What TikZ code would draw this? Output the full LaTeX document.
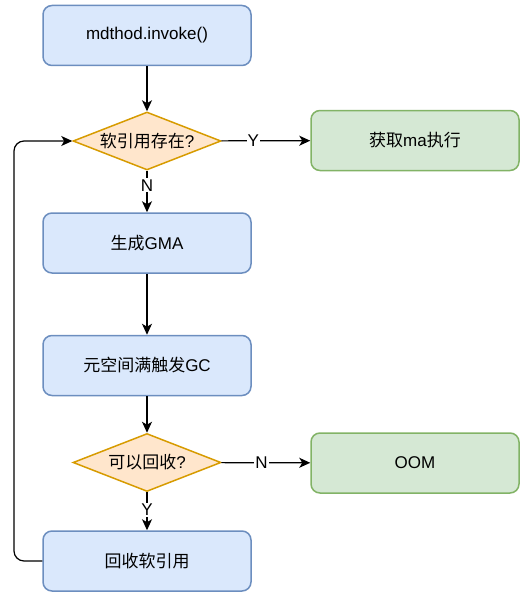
\documentclass[tikz,border=0pt]{standalone}
\usepackage{fontspec}
\setmainfont{Liberation Sans}
\newfontfamily\cjk{Noto Sans CJK SC}
\usetikzlibrary{arrows.meta,shapes.geometric}
\definecolor{bluefill}{HTML}{DAE8FC}
\definecolor{blueline}{HTML}{6C8EBF}
\definecolor{orangefill}{HTML}{FFE6CC}
\definecolor{orangeline}{HTML}{D79B00}
\definecolor{greenfill}{HTML}{D5E8D4}
\definecolor{greenline}{HTML}{82B366}
\begin{document}
\begin{tikzpicture}[x=1pt,y=-1pt,
    font=\fontsize{17}{20}\selectfont,
    stepbox/.style={draw=blueline, fill=bluefill, line width=1.5pt,
      rounded corners=9pt, minimum width=208pt, minimum height=60pt},
    endbox/.style={stepbox, draw=greenline, fill=greenfill},
    test/.style={diamond, draw=orangeline, fill=orangefill, line width=1.5pt,
      aspect=2.55, inner sep=0pt, minimum width=148pt, minimum height=58pt},
    flow/.style={-{Stealth[length=11pt,width=10pt,inset=3pt]}, line width=1.2pt},
    tag/.style={fill=white, inner sep=1pt}]
    \useasboundingbox (0,0) rectangle (528,594);

    % Boxes
    \node[stepbox] (invoke) at (147,35.5) {mdthod.invoke()};
    \node[test] (exists) at (147,141) {{\cjk 软引用存在}?};
    \node[endbox] (run) at (415,140.5) {{\cjk 获取}ma{\cjk 执行}};
    \node[stepbox] (gma) at (147,243) {{\cjk 生成}GMA};
    \node[stepbox] (gc) at (147,365.5) {{\cjk 元空间满触发}GC};
    \node[test] (canfree) at (147,462.5) {{\cjk 可以回收}?};
    \node[endbox] (oom) at (415,463) {OOM};
    \node[stepbox] (free) at (147,561) {{\cjk 回收软引用}};

    % Arcs
    \draw[flow] (invoke) -- (exists);
    \draw[flow] (exists) -- (run) node[tag, pos=0.36]{Y};
    \draw[flow] (exists) -- (gma) node[tag, pos=0.35]{N};
    \draw[flow] (gma) -- (gc);
    \draw[flow] (gc) -- (canfree);
    \draw[flow] (canfree) -- (oom) node[tag, pos=0.45]{N};
    \draw[flow] (canfree) -- (free) node[tag, pos=0.46]{Y};

    \coordinate (back) at (14,141);
    \draw[flow, rounded corners=10pt] (free.west) -| (back) -- (exists.west);
  \end{tikzpicture}
\end{document}
